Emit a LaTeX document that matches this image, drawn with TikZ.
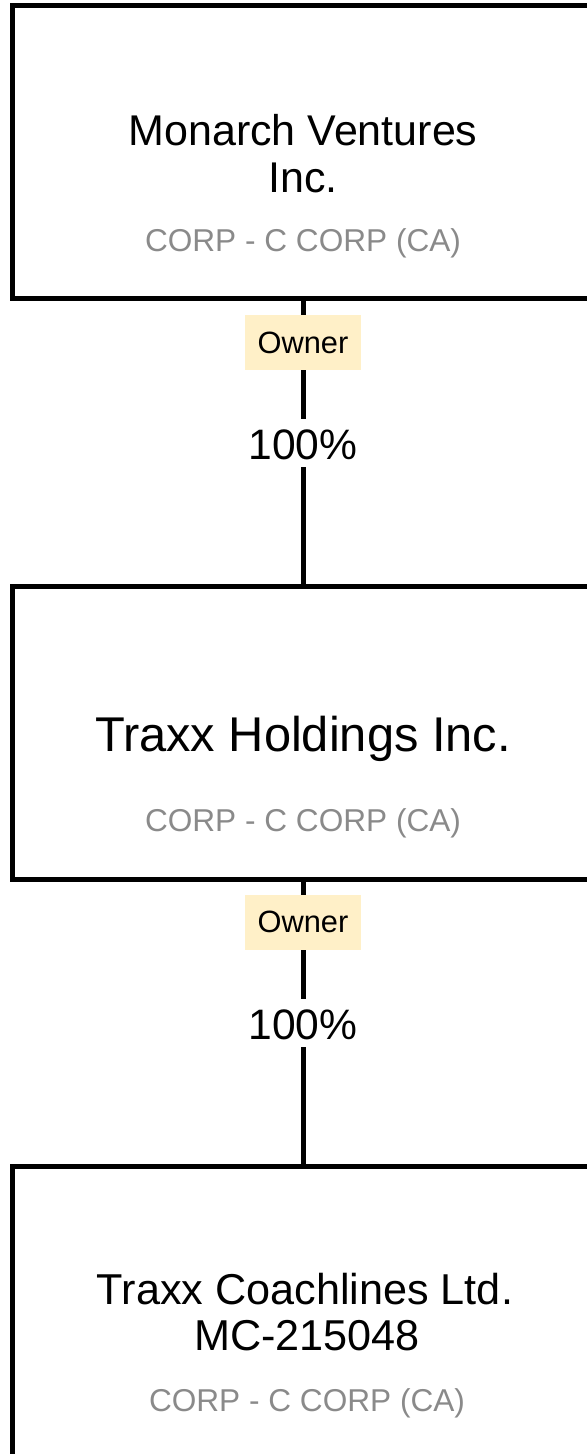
\documentclass[tikz,border=0pt]{standalone}
\usepackage{fontspec}
\setmainfont{Liberation Sans}
\definecolor{ownerfill}{HTML}{FFF0C8}
\definecolor{typegray}{HTML}{8A8A8A}

\begin{document}
\begin{tikzpicture}[x=0.5pt, y=-0.5pt,
    entity/.style ={draw, line width=2.5pt, minimum width=291pt, minimum height=146.5pt, inner sep=0pt},
    link/.style ={line width=2.5pt},
    role/.style ={fill=ownerfill, minimum width=58pt, minimum height=27.5pt, inner sep=0pt, font=\fontsize{15.4}{18}\selectfont},
    share/.style ={fill=white, anchor=base, inner xsep=3pt, inner ysep=4pt, text height=16pt, text depth=0pt, font=\fontsize{21.3}{25}\selectfont},
    title/.style ={anchor=base, inner sep=0pt},
    kind/.style ={anchor=base, inner sep=0pt, text=typegray, font=\fontsize{15.8}{19}\selectfont}]
   \useasboundingbox (0,0) rectangle (587,1454);
   \node[entity] (monarch) at (303,152.5) {};
   \node[entity] (holdings) at (303,732.5) {};
   \node[entity] (coach) at (303,1312.5) {};

   \draw[link] (monarch) to (holdings);
   \draw[link] (holdings) to (coach);

   \node[title, font=\fontsize{21.5}{25}\selectfont] (monarchname) at (303,146) {Monarch Ventures};
   \node[title, font=\fontsize{21.5}{25}\selectfont] (monarchinc) at (303,192.7) {Inc.};
   \node[kind] (monarchkind) at (303,251.7) {CORP - C CORP (CA)};

   \node[title, font=\fontsize{24.4}{28}\selectfont] (holdingsname) at (303,751.7) {Traxx Holdings Inc.};
   \node[kind] (holdingskind) at (303,831) {CORP - C CORP (CA)};

   \node[title, font=\fontsize{21.6}{25}\selectfont] (coachname) at (305,1304) {Traxx Coachlines Ltd.};
   \node[title, font=\fontsize{21.6}{25}\selectfont] (coachid) at (307,1350.7) {MC-215048};
   \node[kind] (coachkind) at (307,1411.7) {CORP - C CORP (CA)};

   \node[role] (role1) at (303,342.5) {Owner};
   \node[share] (share1) at (303,459.3) {100\%};
   \node[role] (role2) at (303,922) {Owner};
   \node[share] (share2) at (303,1039.3) {100\%};
 \end{tikzpicture}
\end{document}
